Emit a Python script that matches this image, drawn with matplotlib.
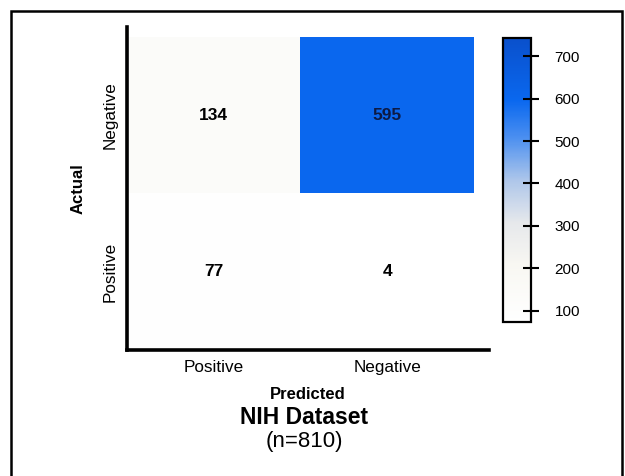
import matplotlib.pyplot as plt
import numpy as np
from matplotlib.colors import LinearSegmentedColormap
from matplotlib.patches import Rectangle

plt.rcParams['font.family'] = ['Liberation Sans', 'DejaVu Sans']

# confusion matrix values (rows: actual, cols: predicted)
actual_labels = ["Negative", "Positive"]
predicted_labels = ["Positive", "Negative"]
counts = np.array([[134, 595],
                   [77, 4]])
n_total = 810

cmap = LinearSegmentedColormap.from_list("wb", [
    (0.0, "#ffffff"),
    (0.2, "#f8f7f2"),
    (0.35, "#e6e8eb"),
    (0.5, "#adc6ea"),
    (0.65, "#4b8ff0"),
    (0.78, "#0a68ef"),
    (1.0, "#0a50cc"),
])

fig = plt.figure(figsize=(6.25, 4.76), dpi=100)
fig.patches.append(Rectangle((11 / 625, -0.05), 611 / 625, 1 - 11 / 476 + 0.05,
                             transform=fig.transFigure, fill=False,
                             edgecolor="black", linewidth=1.8))

ax = fig.add_axes([0.2032, 0.2647, 0.5792, 0.6786])
im = ax.imshow(counts, cmap=cmap, vmin=73, vmax=743, aspect="auto",
               extent=(0, 2, 2, 0))
ax.set_xlim(0, 2.087)
ax.set_ylim(2, -0.064)

for i in range(2):
    for j in range(2):
        v = counts[i, j]
        col = "#0d1a45" if v > 450 else "black"
        ax.text(j + 0.5, i + 0.5, str(v), ha="center", va="center",
                fontsize=12.5, fontweight="bold", color=col)

ax.set_xticks([0.5, 1.5])
ax.set_xticklabels(predicted_labels, fontsize=12.3)
ax.set_yticks([0.5, 1.5])
ax.set_yticklabels(actual_labels, fontsize=12.3, rotation=90, va="center")
ax.tick_params(length=0, pad=7)
ax.set_xlabel("Predicted", fontsize=12, fontweight="bold", labelpad=9)
ax.set_ylabel("Actual", fontsize=12, fontweight="bold", labelpad=12)
for s in ["top", "right"]:
    ax.spines[s].set_visible(False)
for s in ["left", "bottom"]:
    ax.spines[s].set_linewidth(2.6)

cax = fig.add_axes([503 / 625, 1 - 322 / 476, 28 / 625, 284 / 476])
cb = fig.colorbar(im, cax=cax, ticks=[100, 200, 300, 400, 500, 600, 700])
cb.outline.set_linewidth(1.6)
cb.outline.set_edgecolor("black")
cax.tick_params(direction="inout", length=12, width=1.5, labelsize=11, pad=11)

fig.text(304 / 625, 1 - 418 / 476, "NIH Dataset", ha="center", va="center",
         fontsize=16.5, fontweight="bold")
fig.text(304 / 625, 1 - 442 / 476, f"(n={n_total})", ha="center", va="center",
         fontsize=16)

fig.savefig("out.png", dpi=100)
